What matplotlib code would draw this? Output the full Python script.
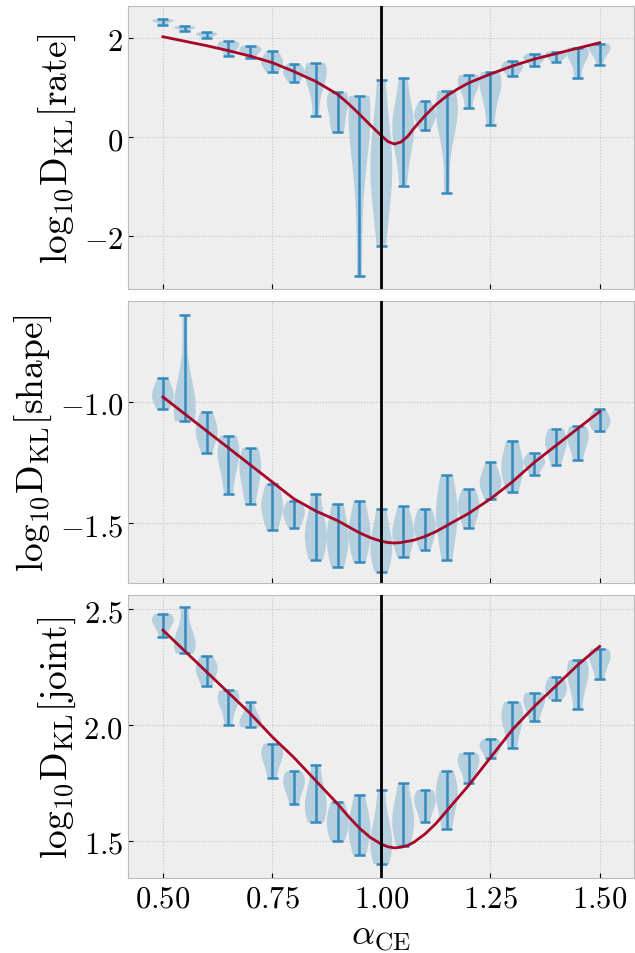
import numpy as np
import matplotlib
matplotlib.use('Agg')
import matplotlib.pyplot as plt
from matplotlib.ticker import FormatStrFormatter

plt.style.use('bmh')
plt.rcParams['font.family'] = 'serif'
plt.rcParams['mathtext.fontset'] = 'cm'

alphas = [0.50, 0.55, 0.60, 0.65, 0.70, 0.75, 0.80, 0.85, 0.90, 0.95, 1.00,
          1.05, 1.10, 1.15, 1.20, 1.25, 1.30, 1.35, 1.40, 1.45, 1.50]

# samples per alpha
rate_samples = [
    [2.26, 2.32, 2.34, 2.35, 2.37],
    [2.13, 2.19, 2.20, 2.21, 2.23],
    [1.99, 2.05, 2.07, 2.08, 2.11],
    [1.63, 1.78, 1.84, 1.88, 1.93],
    [1.59, 1.70, 1.75, 1.79, 1.84],
    [1.31, 1.45, 1.52, 1.58, 1.74],
    [1.11, 1.24, 1.30, 1.36, 1.48],
    [0.42, 0.95, 1.20, 1.32, 1.40, 1.49],
    [0.11, 0.25, 0.55, 0.70, 0.80, 0.90],
    [-2.80, -1.00, 0.10, 0.40, 0.60, 0.70, 0.83],
    [-2.20, -1.30, -0.90, -0.60, -0.30, 0.20, 1.15],
    [-0.99, -0.10, 0.10, 0.25, 0.40, 1.19],
    [0.15, 0.35, 0.45, 0.52, 0.72],
    [-1.13, 0.10, 0.40, 0.60, 0.75, 0.93],
    [0.58, 0.95, 1.10, 1.17, 1.25],
    [0.24, 0.80, 1.05, 1.18, 1.31],
    [1.22, 1.35, 1.40, 1.45, 1.53],
    [1.44, 1.55, 1.58, 1.62, 1.68],
    [1.51, 1.60, 1.64, 1.68, 1.72],
    [1.19, 1.55, 1.68, 1.74, 1.80],
    [1.45, 1.70, 1.77, 1.82, 1.88],
]
shape_samples = [
    [-1.03, -0.99, -0.97, -0.95, -0.90],
    [-1.08, -1.06, -1.03, -1.00, -0.95, -0.64],
    [-1.21, -1.15, -1.12, -1.10, -1.04],
    [-1.38, -1.27, -1.22, -1.19, -1.14],
    [-1.42, -1.33, -1.28, -1.24, -1.19],
    [-1.53, -1.46, -1.43, -1.40, -1.34],
    [-1.52, -1.48, -1.46, -1.44, -1.41],
    [-1.65, -1.58, -1.54, -1.50, -1.38],
    [-1.68, -1.60, -1.56, -1.51, -1.42],
    [-1.66, -1.58, -1.54, -1.50, -1.41],
    [-1.70, -1.63, -1.59, -1.55, -1.44],
    [-1.64, -1.57, -1.54, -1.51, -1.43],
    [-1.61, -1.55, -1.52, -1.49, -1.44],
    [-1.65, -1.52, -1.46, -1.42, -1.30],
    [-1.52, -1.46, -1.43, -1.41, -1.36],
    [-1.40, -1.35, -1.33, -1.31, -1.25],
    [-1.37, -1.30, -1.27, -1.23, -1.16],
    [-1.30, -1.26, -1.25, -1.24, -1.21],
    [-1.26, -1.20, -1.17, -1.15, -1.11],
    [-1.24, -1.18, -1.15, -1.13, -1.10],
    [-1.12, -1.09, -1.08, -1.06, -1.03],
]
joint_samples = [
    [2.38, 2.43, 2.45, 2.46, 2.48],
    [2.31, 2.34, 2.36, 2.39, 2.51],
    [2.17, 2.22, 2.24, 2.26, 2.30],
    [2.00, 2.08, 2.11, 2.13, 2.15],
    [1.99, 2.00, 2.02, 2.04, 2.10],
    [1.77, 1.84, 1.87, 1.89, 1.92],
    [1.66, 1.72, 1.75, 1.77, 1.80],
    [1.58, 1.63, 1.67, 1.71, 1.83],
    [1.50, 1.55, 1.58, 1.62, 1.67],
    [1.44, 1.52, 1.56, 1.60, 1.70],
    [1.40, 1.47, 1.51, 1.55, 1.72],
    [1.48, 1.55, 1.60, 1.64, 1.75],
    [1.58, 1.64, 1.67, 1.69, 1.72],
    [1.55, 1.65, 1.70, 1.73, 1.80],
    [1.75, 1.81, 1.84, 1.86, 1.88],
    [1.86, 1.89, 1.91, 1.92, 1.94],
    [1.90, 1.99, 2.03, 2.06, 2.10],
    [2.02, 2.07, 2.10, 2.12, 2.14],
    [2.11, 2.14, 2.16, 2.18, 2.21],
    [2.07, 2.17, 2.22, 2.25, 2.28],
    [2.20, 2.26, 2.29, 2.31, 2.33],
]

# fitted curves
fit_x = [0.50, 0.55, 0.60, 0.65, 0.70, 0.75, 0.80, 0.85, 0.90, 0.925, 0.95, 0.975,
         1.00, 1.015, 1.03, 1.045, 1.06, 1.075, 1.10, 1.125, 1.15, 1.175, 1.20,
         1.25, 1.30, 1.35, 1.40, 1.45, 1.50]
rate_fit = [2.02, 1.93, 1.84, 1.74, 1.63, 1.50, 1.32, 1.12, 0.86, 0.67, 0.46, 0.24,
            0.03, -0.09, -0.14, -0.10, 0.01, 0.18, 0.43, 0.65, 0.83, 0.97, 1.09,
            1.27, 1.43, 1.57, 1.68, 1.79, 1.90]
shape_fit = [-0.98, -1.05, -1.12, -1.19, -1.26, -1.33, -1.40, -1.45, -1.49, -1.515, -1.54, -1.56,
             -1.575, -1.58, -1.582, -1.58, -1.575, -1.57, -1.555, -1.535, -1.51, -1.485, -1.46,
             -1.40, -1.33, -1.25, -1.18, -1.11, -1.04]
joint_fit = [2.41, 2.32, 2.23, 2.14, 2.05, 1.95, 1.86, 1.76, 1.66, 1.605, 1.555, 1.515,
             1.486, 1.475, 1.47, 1.473, 1.48, 1.495, 1.53, 1.575, 1.63, 1.685, 1.74,
             1.86, 1.98, 2.08, 2.17, 2.26, 2.34]

ylabels = [r'$\mathrm{log}_{10}\mathrm{D}_{\mathrm{KL}}[\mathrm{rate}]$',
           r'$\mathrm{log}_{10}\mathrm{D}_{\mathrm{KL}}[\mathrm{shape}]$',
           r'$\mathrm{log}_{10}\mathrm{D}_{\mathrm{KL}}[\mathrm{joint}]$']

fig, axes = plt.subplots(3, 1, sharex=True, figsize=(6.35, 9.54), dpi=100)
plt.subplots_adjust(left=0.2016, right=0.998, top=0.9927, bottom=0.0786, hspace=0.043)

panels = [
    (rate_samples, rate_fit, (-3.05, 2.64), [-2, 0, 2], r'$%d$'),
    (shape_samples, shape_fit, (-1.748, -0.583), [-1.5, -1.0], r'$%.1f$'),
    (joint_samples, joint_fit, (1.34, 2.56), [1.5, 2.0, 2.5], r'$%.1f$'),
]

for ax, (samples, fit, ylim, yticks, fmt), lab in zip(axes, panels, ylabels):
    parts = ax.violinplot(samples, positions=alphas, widths=0.05)
    for b in parts['bodies']:
        b.set_facecolor('#348ABD')
        b.set_edgecolor('none')
        b.set_alpha(0.3)
    for key in ('cmins', 'cmaxes', 'cbars'):
        parts[key].set_color('#348ABD')
        parts[key].set_linewidth(1.8)
    ax.plot(fit_x, fit, color='#A60628', lw=2, zorder=4)
    ax.axvline(1.0, color='k', lw=2, zorder=5)
    ax.set_ylim(*ylim)
    ax.set_yticks(yticks)
    ax.yaxis.set_major_formatter(FormatStrFormatter(fmt))
    ax.set_ylabel(lab, fontsize=27)
    ax.tick_params(labelsize=22)
    ax.grid(True, ls=':', lw=0.8, color='#c4c4c4')

axes[-1].set_xlim(0.42, 1.578)
axes[-1].set_xticks([0.5, 0.75, 1.0, 1.25, 1.5])
axes[-1].xaxis.set_major_formatter(FormatStrFormatter(r'$%.2f$'))
axes[-1].set_xlabel(r'$\alpha_{\mathrm{CE}}$', fontsize=26, labelpad=4)

fig.savefig('out.png', dpi=100)
